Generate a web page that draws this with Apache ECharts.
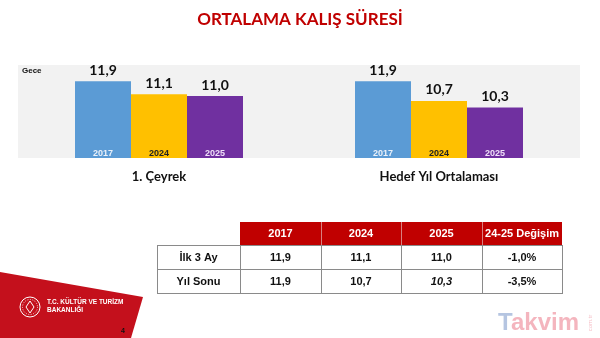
<!DOCTYPE html>
<html>
<head>
<meta charset="utf-8">
<script src="https://cdn.jsdelivr.net/npm/echarts@6/dist/echarts.min.js"></script>
<style>html,body{margin:0;padding:0;background:#fff}#c{width:600px;height:338px}</style>
</head>
<body>
<div id="c"></div>
<script>
// ---- data ----
const categories = ['2017', '2024', '2025'];
const q1Values = [11.9, 11.1, 11.0];          // 1. Çeyrek / İlk 3 Ay
const yearAvgValues = [11.9, 10.7, 10.3];     // Hedef Yıl Ortalaması / Yıl Sonu
const changeValues = [-1.0, -3.5];            // 24-25 Değişim (%)
const tableHeader = ['2017', '2024', '2025', '24-25 Değişim'];
const rowLabels = ['İlk 3 Ay', 'Yıl Sonu'];
const panelTitles = ['1. Çeyrek', 'Hedef Yıl Ortalaması'];
const unitLabel = 'Gece';
const mainTitle = 'ORTALAMA KALIŞ SÜRESİ';

// ---- styles ----
const barColors = ['#5B9BD5', '#FFC000', '#7030A0'];
const yearLabelColors = ['#EAF1FA', '#222222', '#F0E0F8'];
const RED = '#C00000';
const fmt = v => v.toFixed(1).replace('.', ',');

const chart = echarts.init(document.getElementById('c'));

function barSeries(values, idx) {
  return [
    {
      type: 'bar', xAxisIndex: idx, yAxisIndex: idx,
      barCategoryGap: '0%', barGap: '-100%',
      data: values.map((v, i) => ({ value: v, itemStyle: { color: barColors[i] },
        label: { color: yearLabelColors[i] } })),
      label: { show: true, position: 'insideBottom', distance: 0,
        formatter: '{b}', fontSize: 9, fontWeight: 'bold', fontFamily: 'Liberation Sans, Arial' },
      silent: true
    },
    {
      type: 'bar', xAxisIndex: idx, yAxisIndex: idx,
      barCategoryGap: '0%', barGap: '-100%',
      data: values,
      itemStyle: { color: 'rgba(0,0,0,0)' },
      label: { show: true, position: 'top', distance: 4, color: '#111',
        formatter: p => fmt(p.value), fontSize: 14, fontWeight: 'bold', fontFamily: 'Lato, Open Sans' },
      silent: true
    }
  ];
}

// ---- table graphics ----
const tbl = [];
const colX = [157, 240, 321, 401, 482, 562];
const rowY = [222, 245, 269, 293];
const tableRows = [
  q1Values.map(fmt).concat([fmt(changeValues[0]) + '%']),
  yearAvgValues.map(fmt).concat([fmt(changeValues[1]) + '%'])
];
tbl.push({ type: 'rect', shape: { x: colX[1], y: rowY[0], width: colX[5] - colX[1], height: rowY[1] - rowY[0] },
  style: { fill: RED } });
for (let c = 2; c < 5; c++) {
  tbl.push({ type: 'line', shape: { x1: colX[c] + 0.5, y1: rowY[0], x2: colX[c] + 0.5, y2: rowY[1] },
    style: { stroke: '#d98080', lineWidth: 1 } });
}
tableHeader.forEach((h, i) => {
  tbl.push({ type: 'text', x: (colX[i + 1] + colX[i + 2]) / 2, y: (rowY[0] + rowY[1]) / 2,
    style: { text: h, fill: '#fff', font: 'bold 11px "Liberation Sans", Arial', align: 'center', verticalAlign: 'middle' } });
});
for (let r = 1; r < 4; r++) {
  tbl.push({ type: 'line', shape: { x1: colX[0], y1: rowY[r] + 0.5, x2: colX[5], y2: rowY[r] + 0.5 },
    style: { stroke: '#8a8a8a', lineWidth: 1 } });
}
for (let c = 0; c < 6; c++) {
  tbl.push({ type: 'line', shape: { x1: colX[c] + 0.5, y1: rowY[1], x2: colX[c] + 0.5, y2: rowY[3] + 1 },
    style: { stroke: '#8a8a8a', lineWidth: 1 } });
}
rowLabels.forEach((lab, r) => {
  const cy = (rowY[r + 1] + rowY[r + 2]) / 2 + 1;
  tbl.push({ type: 'text', x: (colX[0] + colX[1]) / 2, y: cy,
    style: { text: lab, fill: '#111', font: 'bold 11px "Liberation Sans", Arial', align: 'center', verticalAlign: 'middle' } });
  tableRows[r].forEach((t, c) => {
    const italic = (r === 1 && c === 2) ? 'italic ' : '';
    tbl.push({ type: 'text', x: (colX[c + 1] + colX[c + 2]) / 2, y: cy,
      style: { text: t, fill: '#111', font: italic + 'bold 11px "Liberation Sans", Arial', align: 'center', verticalAlign: 'middle' } });
  });
});

const graphics = [
  { type: 'rect', z: -10, shape: { x: 18, y: 65, width: 562, height: 93 }, style: { fill: '#F2F2F2' } },
  { type: 'text', x: 300, y: 20, style: { text: mainTitle, fill: RED, font: 'bold 17px Lato, "Open Sans"', align: 'center', verticalAlign: 'middle' } },
  { type: 'text', x: 22, y: 71, style: { text: unitLabel, fill: '#111', font: 'bold 8px "Liberation Sans", Arial', align: 'left', verticalAlign: 'middle' } },
  { type: 'text', x: 159, y: 177, style: { text: panelTitles[0], fill: '#111', font: 'bold 13px Lato, "Open Sans"', align: 'center', verticalAlign: 'middle' } },
  { type: 'text', x: 439, y: 177, style: { text: panelTitles[1], fill: '#111', font: 'bold 13px Lato, "Open Sans"', align: 'center', verticalAlign: 'middle' } },
  // footer red shape and logo
  { type: 'polygon', shape: { points: [[0, 272], [143, 297], [131, 338], [0, 338]] }, style: { fill: '#C4101C' } },
  { type: 'circle', shape: { cx: 30, cy: 307, r: 10 }, style: { fill: 'none', stroke: '#fff', lineWidth: 1 } },
  { type: 'circle', shape: { cx: 30, cy: 307, r: 7.5 }, style: { fill: 'none', stroke: '#fff', lineWidth: 0.8, lineDash: [1, 1.5] } },
  { type: 'polygon', shape: { points: [[30, 301], [34, 307], [30, 313], [26, 307]] }, style: { fill: 'none', stroke: '#fff', lineWidth: 1 } },
  { type: 'text', x: 47, y: 302, style: { text: 'T.C. KÜLTÜR VE TURİZM', fill: '#fff', font: 'bold 6.5px "Liberation Sans", Arial', verticalAlign: 'middle' } },
  { type: 'text', x: 47, y: 310, style: { text: 'BAKANLIĞI', fill: '#fff', font: 'bold 6.5px "Liberation Sans", Arial', verticalAlign: 'middle' } },
  { type: 'text', x: 123, y: 331, style: { text: '4', fill: '#111', font: 'bold 7px "Liberation Sans", Arial', align: 'center', verticalAlign: 'middle' } },
  // watermark
  { type: 'text', x: 498, y: 323, style: { text: 'T', fill: 'rgba(120,150,200,0.55)', font: 'bold 24px "Liberation Sans", Arial', verticalAlign: 'middle' } },
  { type: 'text', x: 511, y: 323, style: { text: 'akvim', fill: 'rgba(230,90,110,0.45)', font: 'bold 24px "Liberation Sans", Arial', verticalAlign: 'middle' } },
  { type: 'text', x: 590, y: 323, rotation: Math.PI / 2, style: { text: 'com.tr', fill: 'rgba(230,90,110,0.4)', font: '6px "Liberation Sans", Arial', align: 'center', verticalAlign: 'middle' } }
].concat(tbl);

chart.setOption({
  backgroundColor: '#fff',
  animation: false,
  grid: [
    { left: 75, width: 168, top: 65, bottom: 180 },
    { left: 355, width: 168, top: 65, bottom: 180 }
  ],
  xAxis: [
    { type: 'category', gridIndex: 0, data: categories, show: false },
    { type: 'category', gridIndex: 1, data: categories, show: false }
  ],
  yAxis: [
    { type: 'value', gridIndex: 0, min: 7.2, max: 12.9, show: false },
    { type: 'value', gridIndex: 1, min: 7.2, max: 12.9, show: false }
  ],
  series: barSeries(q1Values, 0).concat(barSeries(yearAvgValues, 1)),
  graphic: graphics
});
</script>
</body>
</html>
